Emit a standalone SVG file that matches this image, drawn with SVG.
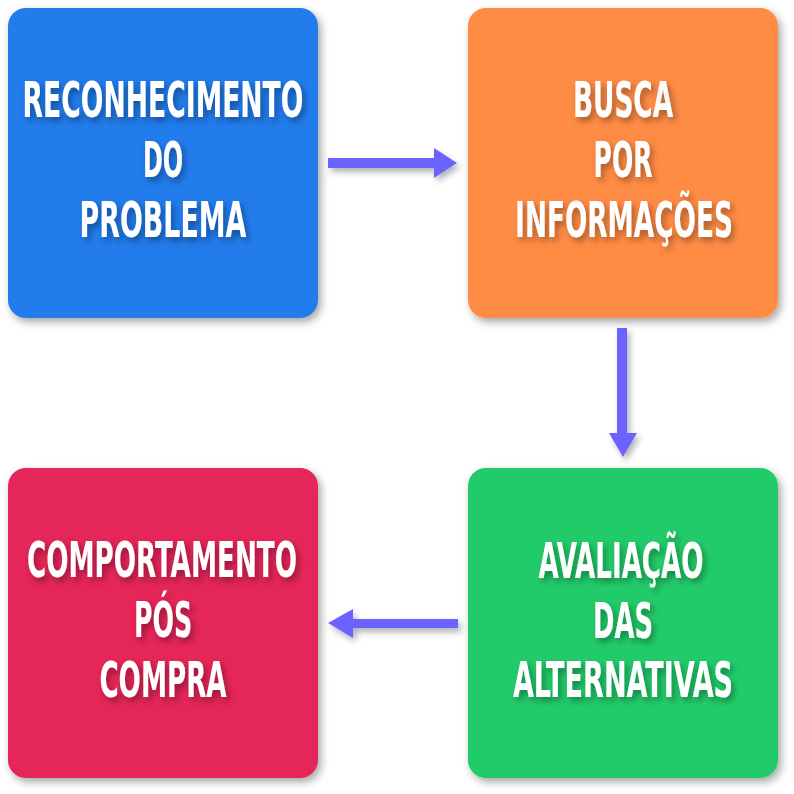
<svg xmlns="http://www.w3.org/2000/svg" width="794" height="794" viewBox="0 0 794 794">
  <defs>
    <filter id="boxShadow" x="-10%" y="-10%" width="125%" height="125%">
      <feDropShadow dx="3" dy="4" stdDeviation="4" flood-color="#000" flood-opacity="0.35"/>
    </filter>
    <filter id="textShadow" x="-15%" y="-20%" width="135%" height="145%">
      <feDropShadow dx="3" dy="4" stdDeviation="3" flood-color="#000" flood-opacity="0.35"/>
    </filter>
    <filter id="arrowShadow" x="-20%" y="-50%" width="150%" height="250%">
      <feDropShadow dx="3" dy="4" stdDeviation="3" flood-color="#000" flood-opacity="0.3"/>
    </filter>
  </defs>
  <style>
    .box { filter: url(#boxShadow); }
    .txt { filter: url(#textShadow); }
    .lbl { font-family: "DejaVu Sans Condensed", "DejaVu Sans", "Roboto", sans-serif; font-weight: bold; font-size: 50px; fill: #ffffff; text-anchor: middle; }
    .arrow { fill: #6C63FF; filter: url(#arrowShadow); }
  </style>
  <rect width="794" height="794" fill="#ffffff"/>

  <g id="node-reconhecimento">
    <rect class="box" x="8" y="8" width="310" height="310" rx="18" fill="#247CEB"/>
    <g class="txt">
      <text class="lbl" transform="translate(163 0) scale(0.6 1)" x="0" y="117" textLength="468" lengthAdjust="spacingAndGlyphs">RECONHECIMENTO</text>
      <text class="lbl" transform="translate(163 0) scale(0.6 1)" x="0" y="177" textLength="67" lengthAdjust="spacingAndGlyphs">DO</text>
      <text class="lbl" transform="translate(163 0) scale(0.6 1)" x="0" y="237" textLength="278" lengthAdjust="spacingAndGlyphs">PROBLEMA</text>
    </g>
  </g>

  <g id="node-busca">
    <rect class="box" x="468" y="8" width="310" height="310" rx="18" fill="#FF8C44"/>
    <g class="txt">
      <text class="lbl" transform="translate(623 0) scale(0.6 1)" x="0" y="117" textLength="167" lengthAdjust="spacingAndGlyphs">BUSCA</text>
      <text class="lbl" transform="translate(623 0) scale(0.6 1)" x="0" y="177" textLength="98" lengthAdjust="spacingAndGlyphs">POR</text>
      <text class="lbl" transform="translate(624 0) scale(0.6 1)" x="0" y="237" textLength="363" lengthAdjust="spacingAndGlyphs">INFORMAÇÕES</text>
    </g>
  </g>

  <g id="node-avaliacao">
    <rect class="box" x="468" y="468" width="310" height="310" rx="18" fill="#23CB6B"/>
    <g class="txt">
      <text class="lbl" transform="translate(621 0) scale(0.6 1)" x="0" y="578" textLength="275" lengthAdjust="spacingAndGlyphs">AVALIAÇÃO</text>
      <text class="lbl" transform="translate(623 0) scale(0.6 1)" x="0" y="638" textLength="100" lengthAdjust="spacingAndGlyphs">DAS</text>
      <text class="lbl" transform="translate(623 0) scale(0.6 1)" x="0" y="697" textLength="367" lengthAdjust="spacingAndGlyphs">ALTERNATIVAS</text>
    </g>
  </g>

  <g id="node-comportamento">
    <rect class="box" x="8" y="468" width="310" height="310" rx="18" fill="#E52558"/>
    <g class="txt">
      <text class="lbl" transform="translate(162 0) scale(0.6 1)" x="0" y="577" textLength="450" lengthAdjust="spacingAndGlyphs">COMPORTAMENTO</text>
      <text class="lbl" transform="translate(163 0) scale(0.6 1)" x="0" y="637" textLength="97" lengthAdjust="spacingAndGlyphs">PÓS</text>
      <text class="lbl" transform="translate(163 0) scale(0.6 1)" x="0" y="697" textLength="212" lengthAdjust="spacingAndGlyphs">COMPRA</text>
    </g>
  </g>

  <g id="connectors">
    <path class="arrow" d="M328 158 H434 V148 L457 163 L434 178 V168 H328 Z"/>
    <path class="arrow" d="M617 328 H627 V433 H637 L623 457 L609 433 H617 Z"/>
    <path class="arrow" d="M458 619 H353 V609 L328 623 L353 638 V628 H458 Z"/>
  </g>
</svg>
